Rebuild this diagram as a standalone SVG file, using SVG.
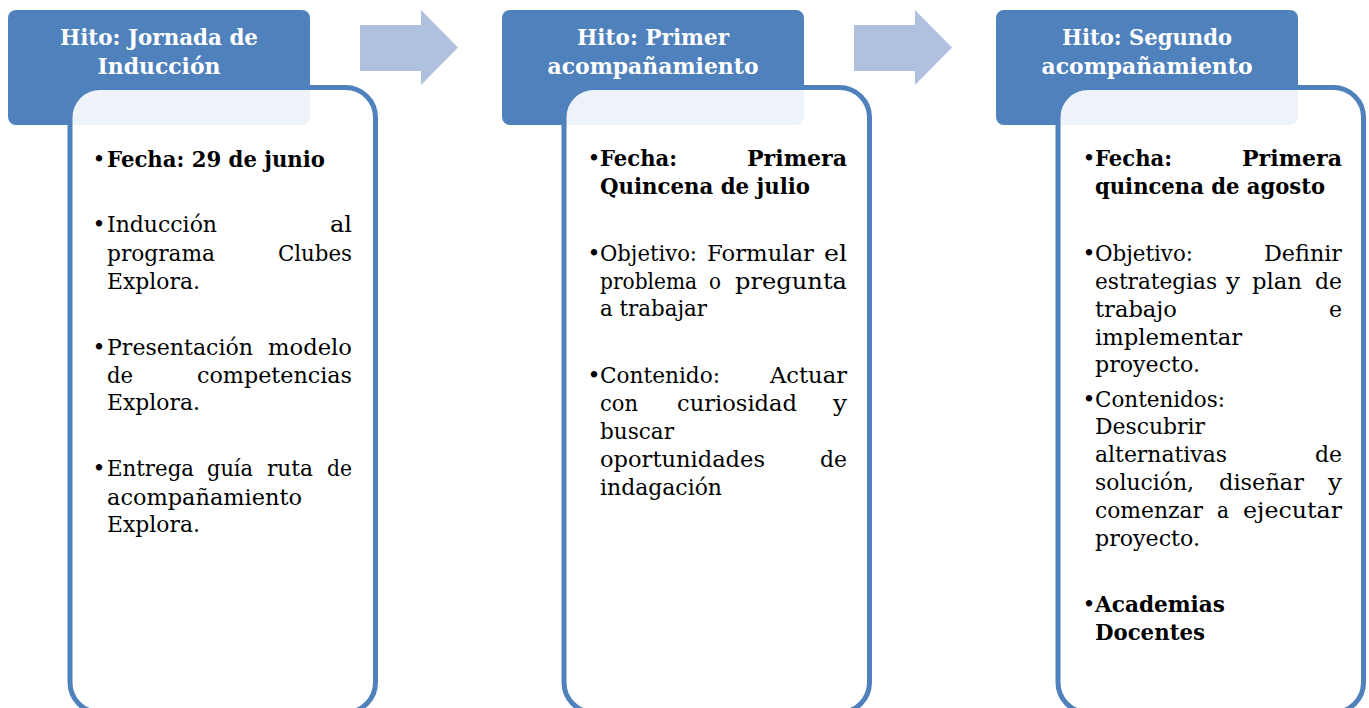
<svg xmlns="http://www.w3.org/2000/svg" width="1369" height="708" viewBox="0 0 1369 708">
<style>
.hdr{fill:#4F81BD}
.body{fill:#FFFFFF;fill-opacity:0.9;stroke:#4F81BD;stroke-width:5}
.arrow{fill:#AFC1DE}
.ht{font-family:"DejaVu Serif","Liberation Serif",serif;font-weight:bold;font-size:23px;fill:#FFFFFF;text-anchor:middle}
.t{font-family:"DejaVu Serif","Liberation Serif",serif;font-size:22px;fill:#000000}
.b{font-weight:bold}
.e{text-anchor:end}
.bul{font-family:"DejaVu Serif","Liberation Serif",serif;font-size:22px;fill:#000000;text-anchor:middle}
</style>
<rect width="1369" height="708" fill="#FFFFFF"/>
<g id="connectors">
<polygon class="arrow" points="360,25 421,25 421,10 458,47.5 421,85 421,71 360,71"/>
<polygon class="arrow" points="854,25 915,25 915,10 952,47.5 915,85 915,71 854,71"/>
</g>
<g id="node1">
<rect class="hdr" x="8" y="10" width="302" height="115" rx="8"/>
<text class="ht" x="159" y="45" textLength="198" lengthAdjust="spacingAndGlyphs">Hito: Jornada de</text>
<text class="ht" x="159" y="74" textLength="123" lengthAdjust="spacingAndGlyphs">Inducción</text>
<rect class="body" x="70" y="87.5" width="305.5" height="625" rx="30"/>
<text class="bul" x="99" y="167">•</text>
<text class="t b" x="107" y="167" textLength="218" lengthAdjust="spacingAndGlyphs">Fecha: 29 de junio</text>
<text class="bul" x="99" y="232">•</text>
<text class="t" x="107" y="232" textLength="110" lengthAdjust="spacingAndGlyphs">Inducción</text>
<text class="t e" x="352" y="232" textLength="22" lengthAdjust="spacingAndGlyphs">al</text>
<text class="t" x="107" y="261" textLength="108" lengthAdjust="spacingAndGlyphs">programa</text>
<text class="t e" x="352" y="261" textLength="74" lengthAdjust="spacingAndGlyphs">Clubes</text>
<text class="t" x="107" y="289" textLength="93" lengthAdjust="spacingAndGlyphs">Explora.</text>
<text class="bul" x="99" y="355">•</text>
<text class="t" x="107" y="355" textLength="146" lengthAdjust="spacingAndGlyphs">Presentación</text>
<text class="t e" x="352" y="355" textLength="84" lengthAdjust="spacingAndGlyphs">modelo</text>
<text class="t" x="107" y="383" textLength="26" lengthAdjust="spacingAndGlyphs">de</text>
<text class="t e" x="352" y="383" textLength="155" lengthAdjust="spacingAndGlyphs">competencias</text>
<text class="t" x="107" y="410" textLength="93" lengthAdjust="spacingAndGlyphs">Explora.</text>
<text class="bul" x="99" y="476">•</text>
<text class="t" x="107" y="476" textLength="87" lengthAdjust="spacingAndGlyphs">Entrega</text>
<text class="t" x="207" y="476" textLength="46" lengthAdjust="spacingAndGlyphs">guía</text>
<text class="t" x="267" y="476" textLength="46" lengthAdjust="spacingAndGlyphs">ruta</text>
<text class="t e" x="352" y="476" textLength="25" lengthAdjust="spacingAndGlyphs">de</text>
<text class="t" x="107" y="505" textLength="195" lengthAdjust="spacingAndGlyphs">acompañamiento</text>
<text class="t" x="107" y="532" textLength="93" lengthAdjust="spacingAndGlyphs">Explora.</text>
</g>
<g id="node2">
<rect class="hdr" x="502" y="10" width="302" height="115" rx="8"/>
<text class="ht" x="653" y="45" textLength="152" lengthAdjust="spacingAndGlyphs">Hito: Primer</text>
<text class="ht" x="653" y="74" textLength="211" lengthAdjust="spacingAndGlyphs">acompañamiento</text>
<rect class="body" x="564" y="87.5" width="305.5" height="625" rx="30"/>
<text class="bul" x="594" y="166">•</text>
<text class="t b" x="600" y="166" textLength="77" lengthAdjust="spacingAndGlyphs">Fecha:</text>
<text class="t b e" x="847" y="166" textLength="100" lengthAdjust="spacingAndGlyphs">Primera</text>
<text class="t b" x="600" y="194" textLength="210" lengthAdjust="spacingAndGlyphs">Quincena de julio</text>
<text class="bul" x="594" y="261">•</text>
<text class="t" x="600" y="261" textLength="97" lengthAdjust="spacingAndGlyphs">Objetivo:</text>
<text class="t" x="707" y="261" textLength="107" lengthAdjust="spacingAndGlyphs">Formular</text>
<text class="t e" x="847" y="261" textLength="23" lengthAdjust="spacingAndGlyphs">el</text>
<text class="t" x="600" y="289" textLength="97" lengthAdjust="spacingAndGlyphs">problema</text>
<text class="t" x="709" y="289" textLength="12" lengthAdjust="spacingAndGlyphs">o</text>
<text class="t e" x="847" y="289" textLength="112" lengthAdjust="spacingAndGlyphs">pregunta</text>
<text class="t" x="600" y="316" textLength="107" lengthAdjust="spacingAndGlyphs">a trabajar</text>
<text class="bul" x="594" y="383">•</text>
<text class="t" x="600" y="383" textLength="120" lengthAdjust="spacingAndGlyphs">Contenido:</text>
<text class="t e" x="847" y="383" textLength="77" lengthAdjust="spacingAndGlyphs">Actuar</text>
<text class="t" x="600" y="411" textLength="38" lengthAdjust="spacingAndGlyphs">con</text>
<text class="t" x="677" y="411" textLength="120" lengthAdjust="spacingAndGlyphs">curiosidad</text>
<text class="t e" x="847" y="411" textLength="14" lengthAdjust="spacingAndGlyphs">y</text>
<text class="t" x="600" y="439" textLength="74" lengthAdjust="spacingAndGlyphs">buscar</text>
<text class="t" x="600" y="467" textLength="165" lengthAdjust="spacingAndGlyphs">oportunidades</text>
<text class="t e" x="847" y="467" textLength="27" lengthAdjust="spacingAndGlyphs">de</text>
<text class="t" x="600" y="495" textLength="122" lengthAdjust="spacingAndGlyphs">indagación</text>
</g>
<g id="node3">
<rect class="hdr" x="996" y="10" width="302" height="115" rx="8"/>
<text class="ht" x="1147" y="45" textLength="170" lengthAdjust="spacingAndGlyphs">Hito: Segundo</text>
<text class="ht" x="1147" y="74" textLength="211" lengthAdjust="spacingAndGlyphs">acompañamiento</text>
<rect class="body" x="1058" y="87.5" width="305.5" height="625" rx="30"/>
<text class="bul" x="1089" y="166">•</text>
<text class="t b" x="1095" y="166" textLength="77" lengthAdjust="spacingAndGlyphs">Fecha:</text>
<text class="t b e" x="1342" y="166" textLength="100" lengthAdjust="spacingAndGlyphs">Primera</text>
<text class="t b" x="1095" y="194" textLength="230" lengthAdjust="spacingAndGlyphs">quincena de agosto</text>
<text class="bul" x="1089" y="261">•</text>
<text class="t" x="1095" y="261" textLength="98" lengthAdjust="spacingAndGlyphs">Objetivo:</text>
<text class="t e" x="1342" y="261" textLength="78" lengthAdjust="spacingAndGlyphs">Definir</text>
<text class="t" x="1095" y="289" textLength="122" lengthAdjust="spacingAndGlyphs">estrategias</text>
<text class="t" x="1226" y="289" textLength="14" lengthAdjust="spacingAndGlyphs">y</text>
<text class="t" x="1252" y="289" textLength="50" lengthAdjust="spacingAndGlyphs">plan</text>
<text class="t e" x="1342" y="289" textLength="27" lengthAdjust="spacingAndGlyphs">de</text>
<text class="t" x="1095" y="317" textLength="82" lengthAdjust="spacingAndGlyphs">trabajo</text>
<text class="t e" x="1342" y="317" textLength="13" lengthAdjust="spacingAndGlyphs">e</text>
<text class="t" x="1095" y="345" textLength="147" lengthAdjust="spacingAndGlyphs">implementar</text>
<text class="t" x="1095" y="372" textLength="105" lengthAdjust="spacingAndGlyphs">proyecto.</text>
<text class="bul" x="1089" y="407">•</text>
<text class="t" x="1095" y="407" textLength="130" lengthAdjust="spacingAndGlyphs">Contenidos:</text>
<text class="t" x="1095" y="434" textLength="110" lengthAdjust="spacingAndGlyphs">Descubrir</text>
<text class="t" x="1095" y="462" textLength="132" lengthAdjust="spacingAndGlyphs">alternativas</text>
<text class="t e" x="1342" y="462" textLength="27" lengthAdjust="spacingAndGlyphs">de</text>
<text class="t" x="1095" y="490" textLength="99" lengthAdjust="spacingAndGlyphs">solución,</text>
<text class="t" x="1219" y="490" textLength="85" lengthAdjust="spacingAndGlyphs">diseñar</text>
<text class="t e" x="1342" y="490" textLength="14" lengthAdjust="spacingAndGlyphs">y</text>
<text class="t" x="1095" y="518" textLength="108" lengthAdjust="spacingAndGlyphs">comenzar</text>
<text class="t" x="1217" y="518" textLength="12" lengthAdjust="spacingAndGlyphs">a</text>
<text class="t e" x="1342" y="518" textLength="99" lengthAdjust="spacingAndGlyphs">ejecutar</text>
<text class="t" x="1095" y="546" textLength="105" lengthAdjust="spacingAndGlyphs">proyecto.</text>
<text class="bul" x="1089" y="612">•</text>
<text class="t b" x="1095" y="612" textLength="130" lengthAdjust="spacingAndGlyphs">Academias</text>
<text class="t b" x="1095" y="640" textLength="110" lengthAdjust="spacingAndGlyphs">Docentes</text>
</g>
</svg>
